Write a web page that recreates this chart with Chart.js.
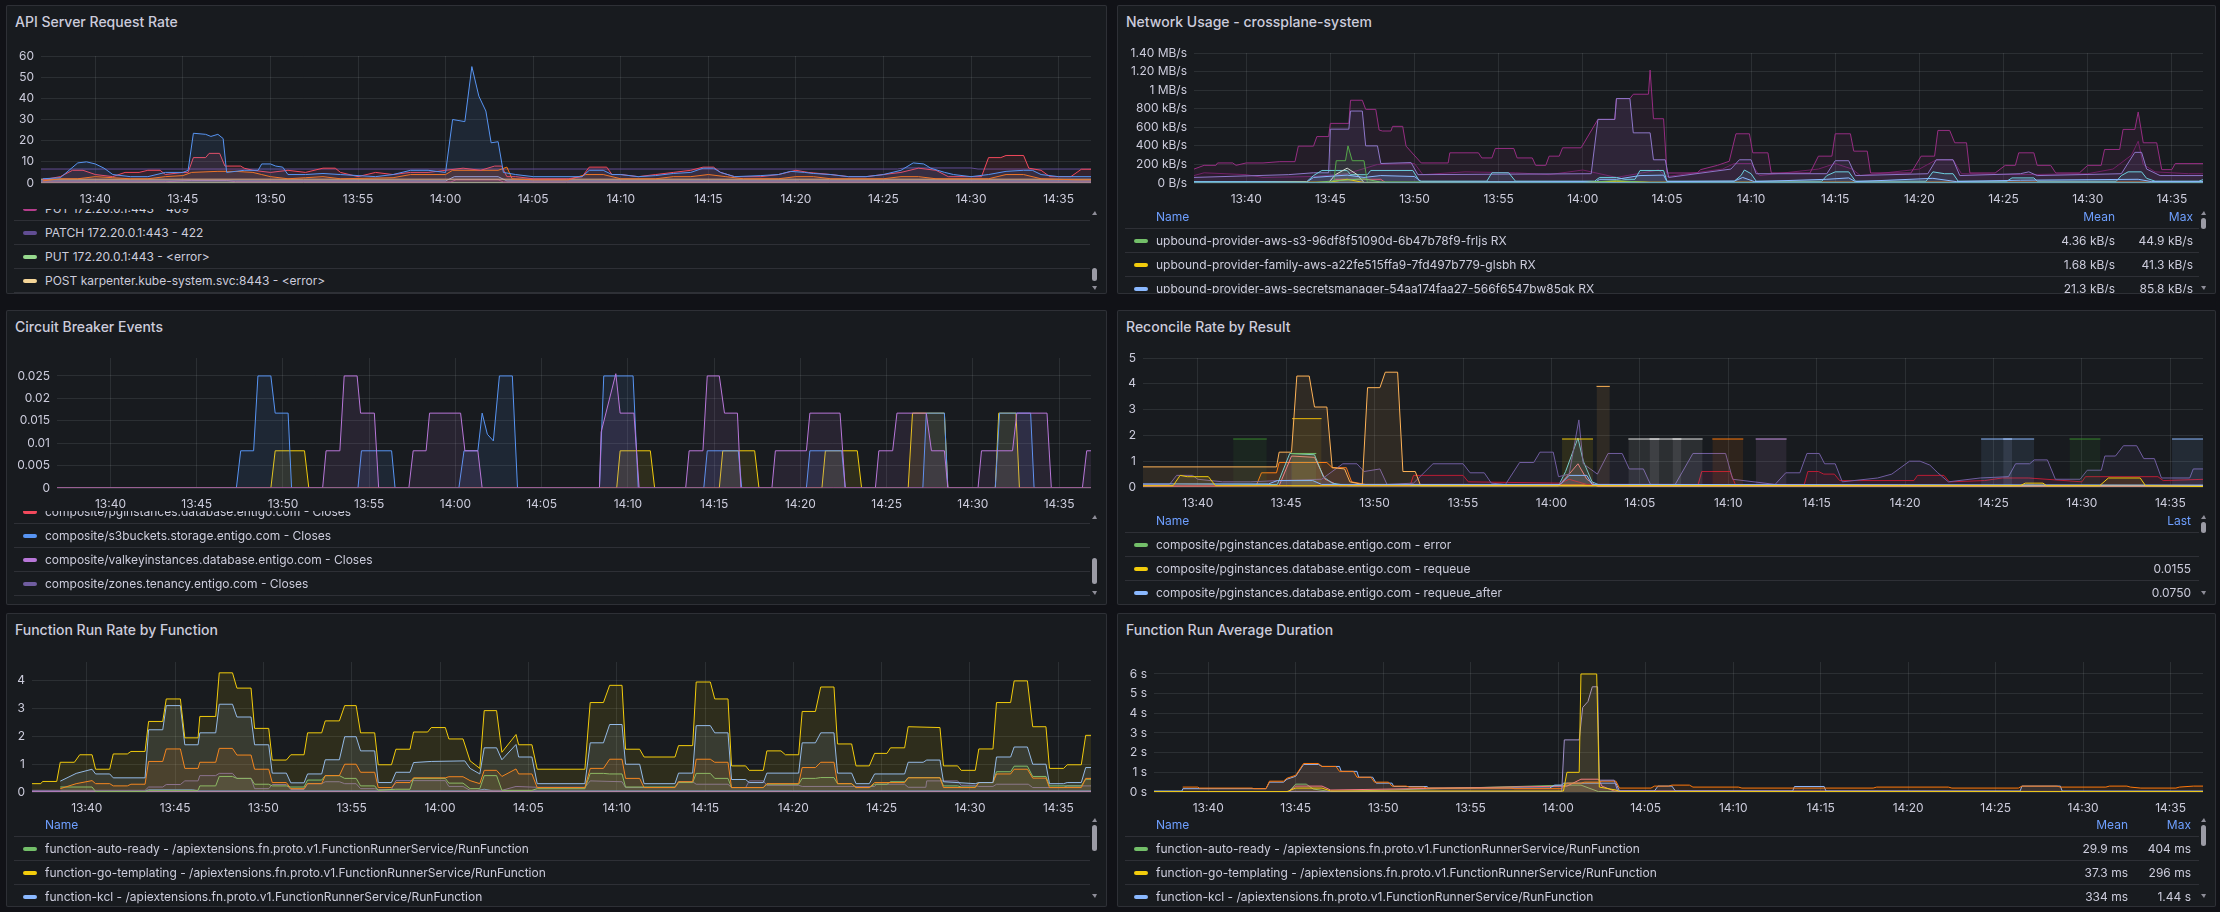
<!DOCTYPE html>
<html>
<head>
<meta charset="utf-8">
<script src="https://cdn.jsdelivr.net/npm/chart.js@4.4.1/dist/chart.umd.min.js"></script>
<style>
  body { margin: 0; background: #111217; width: 2220px; height: 912px; overflow: hidden; font-family: Inter, sans-serif; }
  .panel { position: absolute; background: #181b1f; border: 1px solid rgba(204, 204, 220, 0.12); border-radius: 2px; box-sizing: border-box; overflow: hidden; }
  .title { position: absolute; left: 8px; top: 0; line-height: 32px; font-size: 14px; font-weight: 500; color: #ccccdc; white-space: nowrap; }
  .plot { position: absolute; }
  .legend { position: absolute; left: 7px; right: 16px; bottom: 0; overflow: hidden; }
  .lrow { position: relative; height: 24px; box-sizing: border-box; border-bottom: 1px solid rgba(204, 204, 220, 0.12); font-size: 12px; line-height: 23px; color: #ccccdc; white-space: nowrap; }
  .sw { position: absolute; left: 9px; top: 10px; width: 14px; height: 4px; border-radius: 2px; }
  .lname { position: absolute; left: 31px; }
  .lstat { position: absolute; text-align: right; }
  .head { color: #6e9fff; }
  .sb-thumb { position: absolute; right: 9px; width: 5px; border-radius: 3px; background: #9b9ba5; }
  .sb-up, .sb-down { position: absolute; right: 9px; width: 0; height: 0; border-left: 3px solid transparent; border-right: 2px solid transparent; }
  .sb-up { border-bottom: 4px solid #8e8e99; }
  .sb-down { border-top: 4px solid #8e8e99; }
</style>
</head>
<body>

<div class="panel" id="p1" style="left:6px;top:5px;width:1101px;height:289px">
  <div class="title">API Server Request Rate</div>
  <div class="plot" style="left:7px;top:42px;width:1077px;height:159px"><canvas id="c1"></canvas></div>
  <div class="legend" id="l1" style="top:203px"></div>
</div>
<div class="panel" id="p2" style="left:1117px;top:5px;width:1099px;height:289px">
  <div class="title">Network Usage - crossplane-system</div>
  <div class="plot" style="left:7px;top:39px;width:1078px;height:162px"><canvas id="c2"></canvas></div>
  <div class="legend" id="l2" style="top:199px"></div>
</div>
<div class="panel" id="p3" style="left:6px;top:310px;width:1101px;height:295px">
  <div class="title">Circuit Breaker Events</div>
  <div class="plot" style="left:7px;top:39px;width:1077px;height:162px"><canvas id="c3"></canvas></div>
  <div class="legend" id="l3" style="top:200px"></div>
</div>
<div class="panel" id="p4" style="left:1117px;top:310px;width:1099px;height:295px">
  <div class="title">Reconcile Rate by Result</div>
  <div class="plot" style="left:7px;top:39px;width:1078px;height:161px"><canvas id="c4"></canvas></div>
  <div class="legend" id="l4" style="top:198px"></div>
</div>
<div class="panel" id="p5" style="left:6px;top:613px;width:1101px;height:294px">
  <div class="title">Function Run Rate by Function</div>
  <div class="plot" style="left:7px;top:40px;width:1077px;height:162px"><canvas id="c5"></canvas></div>
  <div class="legend" id="l5" style="top:199px"></div>
</div>
<div class="panel" id="p6" style="left:1117px;top:613px;width:1099px;height:294px">
  <div class="title">Function Run Average Duration</div>
  <div class="plot" style="left:7px;top:40px;width:1078px;height:162px"><canvas id="c6"></canvas></div>
  <div class="legend" id="l6" style="top:199px"></div>
</div>

<script>
// time is in minutes after 13:00, series are [minute, value] pairs
const X_MIN = 36.9;
const X_MAX = 96.85;
const TIME_TICK_VALUES = [40, 45, 50, 55, 60, 65, 70, 75, 80, 85, 90, 95];
const TIME_TICK_LABELS = ['13:40', '13:45', '13:50', '13:55', '14:00', '14:05', '14:10', '14:15', '14:20', '14:25', '14:30', '14:35'];

// ---- API Server Request Rate (req/s) ----
const API_Y_TICKS = [0, 10, 20, 30, 40, 50, 60];
const API_Y_LABELS = ['0', '10', '20', '30', '40', '50', '60'];
const API_GET = [[37,2],[38,2.5],[38.5,6],[39,9.5],[39.5,10],[40,9],[40.5,7],[41,4],[42,3],[43,3],[44,5],[45,5],[45.3,6],[45.6,23.5],[46.3,23],[46.6,22],[47,23],[47.3,21],[47.5,5],[48.5,6],[49.3,6],[49.5,9],[50,9],[50.3,8],[50.7,7.5],[51,4],[52,4],[53,4.5],[54,4],[55,3.5],[56,3],[57,4],[58,6],[59,6],[60,5],[60.4,30],[61.1,29],[61.5,55],[61.9,41],[62.3,34],[62.6,19],[63,19.5],[63.3,5],[64,4],[65,3],[67.8,3],[68.2,6],[69,6],[69.5,4],[70,4],[71,3],[72,3.5],[73,4.5],[74,5],[74.7,7],[75.3,7],[75.7,5],[76.5,3],[78,3.5],[79,4],[79.7,5.5],[80.5,5],[81,4.5],[82,4],[83,3],[84,3],[85,4],[86,6],[86.7,9.5],[87.3,9],[87.7,7],[88.5,5],[89,4],[90,3],[91,4],[92,5.5],[93,6],[93.5,6],[94,4],[95,3],[97,3]];
const API_PUT_200 = [[37,1.5],[38,3],[38.7,6],[39.3,6],[40,4],[41,3],[41.7,5],[42.5,5],[43,6],[43.7,6],[44,4],[45,5],[45.3,5],[45.6,12],[46.3,12],[46.5,14],[47.1,14],[47.4,8],[48.3,8],[48.5,7],[49,6],[50,5],[51,6],[52,5],[53,7],[53.7,7],[54,5],[55,3],[56,5],[57,4],[58,5],[59,5],[60,6],[61,7],[62,6],[62.8,8],[63.2,8],[63.5,3],[64,3],[65,2],[67,2],[67.8,3],[68.2,7.5],[69.2,7.5],[69.5,4],[70,4],[71,3],[72,4],[73,5],[74,6],[74.7,7.5],[75.3,7.5],[75.7,5],[76.5,3],[78,3],[79,4],[80,6],[80.7,5],[82,4],[83,3],[84,3],[85,4],[86,5],[87,7],[88,6],[88.7,3],[90.6,3],[91,12],[91.7,12],[92,13],[93,13],[93.3,7],[94,6],[94.5,3],[95.7,3],[96.3,6.5],[97,6.5]];
const API_POST = [[37,1],[38,2],[39,2],[40,3],[41,2.5],[42,2],[43,2],[44,3],[45,3.5],[45.5,5],[47,5.5],[48,5.5],[49,5],[49.5,4],[50,3],[51,2],[52,2.5],[53,3],[54,2],[57,2.5],[58,4],[60,4],[60.4,6],[63,6],[63.5,7.5],[63.8,2],[65,1.5],[67,1.5],[68,4],[69,4],[70,2],[72,2],[73,3],[74,3],[75,4],[76,3],[77,2],[79,2],[80,3],[81,3],[82,2],[85,2],[86,3],[87,3],[88,2],[91,2],[92,4],[93,4],[94,2],[96,1.5],[97,1.5]];
const API_PATCH_422 = [[36.9,6.6],[85.8,6.6],[86.2,7.1],[90,7.1],[90.4,6.6],[97,6.6]];
const API_POST_KARPENTER = [[36.9,1.8],[97,1.8]];
const API_PUT_409 = [[36.9,0.5],[44,0.6],[45.5,1.2],[47.5,1.2],[48,0.6],[60.3,0.5],[60.6,1.5],[63,1.5],[63.3,0.5],[97,0.5]];
const API_PUT_ERROR = [[36.9,0.2],[97,0.2]];
const API_DELETE = [[36.9,1],[60,1],[60.5,3],[63,3],[63.5,1],[97,1]];
const API_LEGEND = ['PUT 172.20.0.1:443 - 409', 'PATCH 172.20.0.1:443 - 422', 'PUT 172.20.0.1:443 - <error>', 'POST karpenter.kube-system.svc:8443 - <error>'];
const API_LEGEND_COLORS = ['#b53d8c', '#614d93', '#96d98d', '#f4d598'];

// ---- Network Usage (kB/s) ----
const NET_Y_TICKS = [0, 200, 400, 600, 800, 1000, 1200, 1400];
const NET_Y_LABELS = ['0 B/s', '200 kB/s', '400 kB/s', '600 kB/s', '800 kB/s', '1 MB/s', '1.20 MB/s', '1.40 MB/s'];
const NET_MAGENTA = [[36.9,150],[37.5,190],[38.2,190],[38.3,216],[39.2,216],[39.4,190],[40,216],[41,216],[42,230],[42.9,230],[43.1,397],[44,397],[44.2,500],[44.9,500],[45,642],[46.1,642],[46.2,891],[46.9,891],[47.1,793],[47.7,793],[47.9,570],[48.1,560],[48.6,560],[48.7,610],[49.3,610],[49.5,397],[50.4,216],[52,216],[52.1,325],[53.8,325],[54,270],[54.6,270],[54.8,372],[55.9,372],[56.1,270],[57,270],[57.2,190],[57.8,190],[58,289],[58.6,289],[58.8,379],[59.9,379],[60.9,685],[61.9,685],[62,909],[62.8,909],[63,956],[63.9,956],[64,1216],[64.2,692],[64.8,692],[65,108],[66.8,108],[67,144],[68,190],[68.7,234],[69.1,530],[69.9,530],[70.1,325],[71,325],[71.2,108],[73.5,108],[74,289],[74.8,289],[75,530],[75.9,530],[76.1,343],[76.9,343],[77.1,108],[79.5,108],[80.1,289],[80.9,289],[81.1,566],[81.8,566],[82.1,433],[82.8,433],[83,108],[84.5,108],[85.1,190],[85.7,190],[85.9,325],[86.8,325],[87,190],[87.8,190],[88.1,108],[89.5,108],[90,190],[90.8,190],[91,361],[91.9,361],[92.1,577],[92.8,577],[93,765],[93.3,433],[94.1,433],[94.4,144],[95,144],[95.2,209],[97,209]];
const NET_LAVENDER = [[36.9,60],[42.5,90],[44,110],[44.9,110],[45,580],[46.1,580],[46.2,775],[46.9,775],[47.1,400],[47.8,400],[48,210],[49.8,220],[50.2,90],[60.5,100],[60.9,685],[61.9,685],[62,909],[62.8,909],[63,540],[64,540],[64.2,250],[64.9,250],[65.1,60],[68.8,150],[69.3,250],[70,250],[70.3,100],[74.5,100],[75,240],[75.8,240],[76.2,80],[80.5,100],[81,250],[82,250],[82.4,80],[86,100],[86.5,120],[87,80],[92,100],[92.8,330],[93.2,330],[93.5,150],[94.3,80],[97,80]];
const NET_DARK_MAGENTA = [[36.9,80],[37.5,110],[40,90],[41,60],[44,70],[46,100],[47.8,200],[50,210],[50.5,90],[53,120],[56,110],[58,90],[60,140],[62,60],[64.5,140],[65,70],[68.3,150],[69,210],[70,210],[70.5,80],[74,150],[75,210],[76,150],[76.5,80],[80,150],[81,250],[82,250],[82.5,100],[86,90],[90,100],[91.5,150],[92.6,300],[93,450],[93.3,200],[94,120],[96,100],[97,100]];
const NET_CYAN = [[36.9,15],[43.6,15],[44,80],[44.5,135],[46,135],[46.2,90],[47.2,90],[47.4,135],[49.9,135],[50.3,20],[54.3,20],[54.6,110],[55.6,110],[56,20],[60.7,20],[61,60],[62,60],[62.5,40],[63.1,40],[63.4,135],[64.8,135],[65,20],[69,20],[69.4,80],[69.6,140],[70,100],[70.3,20],[74.2,20],[74.5,80],[75,120],[75.8,120],[76.2,20],[80.4,20],[80.8,120],[81.5,100],[82,100],[82.3,20],[85.2,20],[85.5,55],[86.8,55],[87,20],[91.7,20],[92,80],[92.4,120],[93.2,120],[93.5,50],[94,20],[96.6,20],[97,45]];
const NET_SECRETSMANAGER_RX = [[36.9,10],[43.6,10],[44,60],[46,85],[47,60],[48,80],[50,70],[50.4,15],[60.8,15],[61,40],[62,40],[63.4,80],[64.8,85],[65,15],[69,20],[69.5,60],[70.2,15],[74.5,40],[75.8,55],[76.2,15],[80.8,50],[82.2,15],[86,30],[93,40],[93.8,15],[97,15]];
const NET_GREEN_TX = [[36.9,5],[45.2,5],[45.35,240],[45.9,240],[46.05,400],[46.3,240],[47,240],[47.2,10],[97,5]];
const NET_S3_RX = [[36.9,3],[44,3],[45,20],[47,45],[48,10],[60,5],[62,25],[64,5],[97,3]];
const NET_FAMILY_RX = [[36.9,1],[45,10],[46,40],[47,5],[60,3],[62,20],[64,5],[97,1]];
const NET_WHITE = [[36.9,5],[44.9,5],[45.3,90],[46,160],[46.6,90],[47,5],[97,5]];
const NET_ORANGE = [[36.9,2],[60.8,2],[61,10],[97,10]];
const NET_RED = [[36.9,2],[45,2],[45.3,40],[48,40],[48.3,2],[97,2]];
const NET_BASELINE = [[36.9,1],[97,1]];
const NET_LEGEND = ['upbound-provider-aws-s3-96df8f51090d-6b47b78f9-frljs RX', 'upbound-provider-family-aws-a22fe515ffa9-7fd497b779-glsbh RX', 'upbound-provider-aws-secretsmanager-54aa174faa27-566f6547bw85gk RX'];
const NET_LEGEND_COLORS = ['#73bf69', '#f2cc0c', '#8ab8ff'];
const NET_MEAN = ['4.36 kB/s', '1.68 kB/s', '21.3 kB/s'];
const NET_MAX = ['44.9 kB/s', '41.3 kB/s', '85.8 kB/s'];

// ---- Circuit Breaker Events ----
const CB_Y_TICKS = [0, 0.005, 0.01, 0.015, 0.02, 0.025];
const CB_Y_LABELS = ['0', '0.005', '0.01', '0.015', '0.02', '0.025'];
const CB_S3BUCKETS = [[36.9,0],[47.3,0],[47.55,0.0083],[48.3,0.0083],[48.55,0.025],[49.3,0.025],[49.55,0.0167],[50.3,0.0167],[50.5,0],[54.35,0],[54.55,0.0083],[56.3,0.0083],[56.5,0],[60.2,0],[60.5,0.0083],[61.3,0.0083],[61.55,0.0167],[61.85,0.012],[62.2,0.0105],[62.55,0.025],[63.3,0.025],[63.6,0],[68.35,0],[68.6,0.025],[70.3,0.025],[70.6,0],[74.4,0],[74.6,0.0083],[76.4,0.0083],[76.6,0],[80.35,0],[80.55,0.0083],[82.4,0.0083],[82.6,0],[87.1,0],[87.3,0.0167],[88.35,0.0167],[88.55,0],[91.3,0],[91.55,0.0167],[93.35,0.0167],[93.55,0],[97,0]];
const CB_VALKEY = [[36.9,0],[52.3,0],[52.5,0.0083],[53.3,0.0083],[53.55,0.025],[54.3,0.025],[54.5,0.0167],[55.3,0.0167],[55.55,0],[57.3,0],[57.55,0.0083],[58.3,0.0083],[58.5,0.0167],[60.3,0.0167],[60.55,0.0083],[61.3,0.0083],[61.55,0],[68.35,0],[68.45,0.0125],[69.3,0.0255],[69.55,0.0167],[70.35,0.0167],[70.65,0],[73.35,0],[73.55,0.0083],[74.35,0.0083],[74.6,0.025],[75.3,0.025],[75.6,0.0167],[76.35,0.0167],[76.55,0],[78.35,0],[78.55,0.0083],[80.35,0.0083],[80.55,0.0167],[82.3,0.0167],[82.6,0],[84.35,0],[84.55,0.0083],[85.35,0.0083],[85.6,0.0167],[87.3,0.0167],[87.6,0.0083],[88.35,0.0083],[88.55,0],[90.3,0],[90.5,0.0083],[92.3,0.0083],[92.55,0.0167],[94.3,0.0167],[94.55,0],[96.35,0],[96.6,0.0083],[97,0.0083]];
const CB_OBJECTS = [[36.9,0],[49.3,0],[49.55,0.0083],[51.25,0.0083],[51.5,0],[69.35,0],[69.55,0.0083],[71.3,0.0083],[71.55,0],[75.3,0],[75.5,0.0083],[77.35,0.0083],[77.6,0],[81.25,0],[81.45,0.0083],[83.3,0.0083],[83.55,0],[86.25,0],[86.5,0.0167],[88.35,0.0167],[88.55,0],[91.3,0],[91.5,0.0167],[92.5,0.0167],[92.7,0],[97,0]];
const CB_PGINSTANCES = [[36.9,0],[97,0]];
const CB_ZONES = [[36.9,0],[97,0]];
const CB_LEGEND = ['composite/pginstances.database.entigo.com - Closes', 'composite/s3buckets.storage.entigo.com - Closes', 'composite/valkeyinstances.database.entigo.com - Closes', 'composite/zones.tenancy.entigo.com - Closes'];
const CB_LEGEND_COLORS = ['#f2495c', '#5794f2', '#b877d9', '#705da0'];

// ---- Reconcile Rate by Result ----
const REC_Y_TICKS = [0, 1, 2, 3, 4, 5];
const REC_Y_LABELS = ['0', '1', '2', '3', '4', '5'];
const REC_SUCCESS = [[36.9,0.78],[44.45,0.78],[44.6,1.35],[45.3,1.35],[45.6,4.3],[46.3,4.3],[46.6,3.1],[47.3,3.1],[47.6,0.75],[48.3,0.7],[48.6,0.2],[49.3,0.1],[49.6,3.85],[50.3,3.85],[50.6,4.45],[51.3,4.45],[51.6,0.6],[52.3,0.6],[52.6,0.05],[97,0.05]];
const REC_SUCCESS_BURST = [[62.55,3.9],[63.3,3.9]];
const REC_OLIVE = [[45.33,2.65],[47,2.65]];
const REC_GREEN_PULSES = [[42,1.86],[43.9,1.86],[44,null],[89.3,1.86],[91.05,1.86]];
const REC_YELLOW_PULSE = [[60.6,1.86],[62.35,1.86]];
const REC_WHITE_PULSE = [[64.35,1.86],[68.55,1.86]];
const REC_GREY_PULSES = [[65.55,1.86],[66.1,1.86],[66.2,null],[66.85,1.86],[67.35,1.86]];
const REC_ORANGE_PULSE = [[69.1,1.86],[70.85,1.86]];
const REC_LAVENDER_PULSE = [[71.55,1.86],[73.3,1.86]];
const REC_BLUE_PULSES = [[84.3,1.86],[87.3,1.86],[87.4,null],[95.1,1.86],[97,1.86]];
const REC_BLUE_STRIPE = [[85.55,1.86],[86.05,1.86]];
const REC_PURPLE = [[36.9,0.1],[38.4,0.1],[38.8,0.45],[39.7,0.45],[40,0.3],[41.4,0.2],[43,0.2],[44.6,0.25],[47,0.3],[48.2,0.9],[49,0.9],[49.4,0.6],[50.3,0.7],[50.7,0.1],[52.2,0.15],[53.3,0.9],[55,0.9],[55.4,0.55],[56.2,0.55],[56.6,0.15],[57.4,0.1],[58.2,0.95],[59,0.95],[59.35,1.35],[60.1,1.35],[60.4,0.4],[61,0.5],[61.55,2.6],[61.8,0.9],[62.6,0.5],[63.2,1.3],[64,1.3],[64.4,0.7],[65.2,0.7],[65.6,0.1],[67,0.1],[68,1.3],[69.85,1.3],[70.25,0.3],[72.65,0.1],[73.25,0.55],[74.05,0.55],[74.45,1.3],[75.15,1.3],[75.45,0.9],[76.05,0.9],[76.45,0.2],[78.45,0.35],[79.25,0.5],[80.25,1],[80.85,1],[81.4,0.85],[81.85,0.55],[82.45,0.2],[84.25,0.35],[85.85,0.4],[86.25,0.9],[87.05,0.9],[87.3,1.05],[88.05,1.05],[88.5,0.3],[89.9,0.3],[90.3,0.65],[91.1,0.65],[91.3,1.2],[91.9,1.2],[92.35,1.6],[93.1,1.6],[93.5,1.1],[94.1,1.1],[94.5,0.35],[96.1,0.35],[96.3,0.7],[97,0.7]];
const REC_DARK_RED = [[36.9,0.05],[52,0.05],[52.2,0.45],[55,0.45],[55.3,0.2],[60.5,0.15],[61,0.3],[62,0.1],[68.3,0.1],[68.5,0.6],[70.1,0.6],[70.4,0.1],[74.3,0.1],[74.5,0.6],[75.1,0.6],[75.4,0.5],[76,0.5],[76.3,0.25],[80.5,0.25],[80.7,0.45],[82.2,0.45],[82.5,0.2],[84.5,0.25],[85.5,0.35],[87,0.35],[90,0.2],[90.2,0.4],[94.3,0.4],[94.6,0.25],[97,0.3]];
const REC_TEAL = [[36.9,0.05],[44.5,0.1],[45.2,1.3],[46.6,1.25],[47.1,0.4],[47.6,0.15],[48.5,0.05],[60.4,0.05],[60.8,0.6],[61.5,1.9],[61.8,1],[62.3,0.2],[62.8,0.05],[97,0.05]];
const REC_PINK = [[36.9,0.02],[44.6,0.05],[45.3,1.2],[46.6,1.15],[47.2,0.3],[48,0.05],[60.4,0.05],[61,0.5],[61.5,0.9],[62,0.3],[62.6,0.02],[97,0.02]];
const REC_ORANGE = [[36.9,0.05],[43.3,0.05],[43.6,0.55],[44.45,0.55],[44.6,0.95],[47.3,0.95],[47.6,0.75],[48.4,0.75],[48.7,0.2],[49.5,0.1],[97,0.05]];
const REC_PG_ERROR = [[45.25,1.3],[46.7,1.3]];
const REC_PG_REQUEUE = [[36.9,0.05],[38.6,0.05],[39,0.45],[39.4,0.4],[40.6,0.4],[41,0.05],[86.5,0.05],[86.8,0.15],[87.8,0.15],[88,0.05],[91,0.05],[91.5,0.35],[93.3,0.35],[93.6,0.05],[97,0.0155]];
const REC_PG_REQUEUE_AFTER = [[36.9,0.12],[44,0.12],[44.5,0.25],[46.5,0.25],[47,0.1],[60.5,0.1],[61,0.45],[62,0.45],[62.3,0.1],[97,0.075]];
const REC_LEGEND = ['composite/pginstances.database.entigo.com - error', 'composite/pginstances.database.entigo.com - requeue', 'composite/pginstances.database.entigo.com - requeue_after'];
const REC_LEGEND_COLORS = ['#73bf69', '#f2cc0c', '#8ab8ff'];
const REC_LAST = ['', '0.0155', '0.0750'];

// ---- Function Run Rate by Function (runs/s) ----
const FN_Y_TICKS = [0, 1, 2, 3, 4];
const FN_Y_LABELS = ['0', '1', '2', '3', '4'];
const FN_GO_TEMPLATING = [[36.9,0.3],[37.4,0.3],[37.5,0.38],[38.3,0.38],[38.5,1.07],[39.3,1.07],[39.6,1.34],[40.3,1.34],[40.5,0.82],[41.3,0.82],[41.5,1.37],[42.3,1.37],[42.5,1.46],[43.3,1.46],[43.5,2.54],[44.3,2.54],[44.5,3.35],[45.3,3.35],[45.55,1.95],[46.3,1.95],[46.4,2.72],[47.3,2.72],[47.5,4.29],[48.25,4.29],[48.5,3.74],[49.3,3.74],[49.5,2.29],[50.3,2.29],[50.5,1.15],[51.3,1.15],[51.55,1.34],[52.3,1.34],[52.5,2.13],[53.3,2.13],[53.5,2.56],[54.3,2.56],[54.6,3.11],[55.25,3.11],[55.5,2.13],[56.3,2.13],[56.5,0.98],[57.25,0.98],[57.5,1.54],[58.3,1.54],[58.5,2.16],[59.3,2.16],[59.5,2.32],[60.3,2.32],[60.5,1.91],[61.3,1.91],[61.7,1.12],[62.25,0.85],[62.5,2.93],[63.2,2.93],[63.5,1.43],[64.3,2.07],[64.45,1.7],[65.2,1.7],[65.5,0.82],[68.2,0.82],[68.5,3.22],[69.25,3.22],[69.6,3.84],[70.3,3.84],[70.5,1.54],[71.3,1.54],[71.55,1.26],[73.3,1.26],[73.5,1.67],[74.3,1.67],[74.5,3.96],[75.3,3.96],[75.55,3.35],[76.3,3.35],[76.5,0.94],[77.3,0.94],[77.5,0.78],[78.3,0.78],[78.5,1.48],[79.3,1.48],[79.55,1.34],[80.3,1.34],[80.5,2.9],[81.25,2.9],[81.55,3.78],[82.3,3.78],[82.5,1.73],[83.3,1.73],[83.55,0.94],[84.3,0.94],[84.6,1.39],[85.3,1.39],[85.5,1.59],[86.3,1.59],[86.5,2.35],[88.3,2.32],[88.5,0.94],[89.3,0.94],[89.5,0.78],[90.3,0.78],[90.5,1.55],[91.3,1.55],[91.5,3.22],[92.3,3.22],[92.5,4],[93.25,4],[93.55,2.35],[94.3,2.35],[94.5,0.85],[95.3,0.85],[95.5,0.98],[96.3,0.98],[96.55,2.04],[97,2.04]];
const FN_KCL = [[38.5,0.39],[39.4,0.67],[40.3,0.82],[40.5,0.65],[41.3,0.65],[41.5,0.51],[43.3,0.51],[43.5,2.24],[44.3,2.24],[44.5,3.11],[45.3,3.11],[45.55,1.7],[46.3,1.7],[46.4,2.13],[47.3,2.13],[47.5,3.16],[48.25,3.16],[48.5,2.7],[49.3,2.7],[49.5,1.7],[50.3,1.7],[50.5,0.68],[51.3,0.68],[51.55,0.33],[52.3,0.33],[52.5,0.65],[53.3,0.65],[53.5,1.16],[54.3,1.16],[54.6,1.99],[55.25,1.99],[55.5,1.48],[56.3,1.48],[56.5,0.34],[57.25,0.34],[57.5,0.71],[58.3,0.71],[58.5,1.06],[59.5,1.1],[61.4,1.12],[61.7,0.85],[62.25,0.65],[62.5,1.59],[63.2,1.59],[63.5,1.16],[64.3,1.71],[64.45,1.26],[65.2,1.26],[65.5,0.3],[68.2,0.3],[68.5,1.77],[69.25,1.77],[69.6,2.43],[70.3,2.43],[70.5,1],[71.3,1],[71.55,0.3],[73.3,0.3],[73.5,0.68],[74.3,0.68],[74.5,2.39],[75.3,2.39],[75.55,2.13],[76.3,2.13],[76.5,0.45],[77.3,0.45],[77.5,0.34],[78.3,0.34],[78.5,0.68],[80.3,0.68],[80.5,1.77],[81.25,1.77],[81.55,2.13],[82.3,2.13],[82.5,0.68],[83.3,0.68],[83.55,0.3],[84.3,0.3],[84.6,0.65],[86.3,0.65],[86.5,1.07],[87.35,1.07],[87.55,1.15],[88.3,1.15],[88.5,0.37],[90.3,0.3],[90.5,0.34],[91.3,0.34],[91.5,1.26],[92.3,1.26],[92.5,1.62],[93.25,1.62],[93.55,1],[94.3,1],[94.5,0.3],[95.3,0.3],[95.5,0.34],[96.3,0.34],[96.55,0.88],[97,0.88]];
const FN_PATCH_TRANSFORM = [[38.5,0.12],[39.4,0.3],[40.3,0.41],[40.5,0.3],[41.3,0.3],[41.5,0.22],[42.3,0.22],[42.5,0.28],[43.3,0.28],[43.5,1.1],[44.3,1.1],[44.5,1.55],[45.3,1.55],[45.55,0.85],[46.3,0.85],[46.4,1.07],[47.3,1.07],[47.5,1.57],[48.25,1.57],[48.5,1.33],[49.3,1.33],[49.5,0.82],[50.3,0.82],[50.5,0.34],[51.3,0.34],[51.55,0.12],[52.3,0.12],[52.5,0.3],[53.3,0.3],[53.5,0.59],[54.3,0.59],[54.6,1],[55.25,1],[55.5,0.71],[56.3,0.71],[56.5,0.16],[57.25,0.16],[57.5,0.34],[58.3,0.34],[58.5,0.51],[60.3,0.51],[60.5,0.55],[61.3,0.55],[61.7,0.41],[62.25,0.3],[62.5,0.78],[63.2,0.78],[63.5,0.56],[64.3,0.83],[64.45,0.65],[65.2,0.65],[65.5,0.16],[68.2,0.16],[68.5,0.85],[69.25,0.85],[69.6,1.18],[70.3,1.18],[70.5,0.49],[71.3,0.49],[71.55,0.16],[73.3,0.16],[73.5,0.37],[74.3,0.37],[74.5,1.18],[75.3,1.18],[75.55,1.07],[76.3,1.07],[76.5,0.16],[78.3,0.16],[78.5,0.3],[80.3,0.3],[80.5,0.88],[81.25,0.88],[81.55,1.07],[82.3,1.07],[82.5,0.3],[83.3,0.3],[83.55,0.16],[84.3,0.16],[84.6,0.34],[86.3,0.34],[86.5,0.51],[88.3,0.51],[88.5,0.16],[90.3,0.16],[90.5,0.34],[91.3,0.34],[91.5,0.65],[92.3,0.65],[92.5,0.82],[93.25,0.82],[93.55,0.5],[94.3,0.5],[94.5,0.16],[96.3,0.16],[96.55,0.49],[97,0.49]];
const FN_AUTO_READY = [[38.5,0.18],[40.3,0.18],[40.5,0.02],[43.3,0.02],[43.5,0.06],[46.3,0.06],[46.4,0.22],[47.3,0.22],[47.5,0.56],[48.25,0.56],[48.5,0.49],[49.3,0.49],[49.5,0.28],[50.3,0.28],[50.5,0.22],[51.3,0.22],[51.55,0.18],[52.3,0.18],[52.5,0.43],[53.3,0.43],[53.5,0.59],[54.3,0.59],[54.6,0.49],[55.25,0.49],[55.5,0.22],[56.3,0.22],[56.5,0.06],[57.5,0.1],[58.3,0.1],[58.5,0.49],[60.3,0.49],[60.5,0.32],[61.3,0.32],[61.7,0.12],[62.25,0.12],[62.5,0.59],[63.2,0.59],[63.5,0.06],[65.2,0.06],[65.5,0.12],[68.2,0.12],[68.5,0.67],[69.25,0.67],[69.6,0.65],[70.3,0.65],[70.5,0.18],[73.3,0.18],[73.5,0.34],[74.3,0.34],[74.5,0.67],[75.3,0.67],[75.55,0.49],[76.3,0.49],[76.5,0.16],[78.3,0.16],[78.5,0.28],[80.3,0.28],[80.5,0.49],[81.25,0.49],[81.55,0.52],[82.3,0.52],[82.5,0.3],[83.3,0.3],[83.55,0.16],[84.3,0.16],[84.6,0.28],[85.3,0.28],[85.5,0.37],[86.3,0.37],[86.5,0.52],[88.3,0.52],[88.5,0.22],[89.3,0.22],[89.5,0.18],[90.3,0.18],[90.5,0.34],[91.3,0.34],[91.5,0.73],[92.3,0.73],[92.5,0.93],[93.25,0.93],[93.55,0.56],[94.3,0.56],[94.5,0.22],[96.3,0.22],[96.55,0.46],[97,0.46]];
const FN_EXTRA_RESOURCES = [[36.9,0.06],[43.3,0.06],[43.5,0.18],[44.3,0.18],[44.5,0.27],[45.3,0.27],[45.55,0.4],[46.3,0.4],[46.4,0.59],[47.3,0.59],[47.5,0.67],[48.25,0.67],[48.5,0.49],[49.3,0.49],[49.5,0.12],[50.3,0.12],[50.5,0.27],[51.3,0.27],[51.55,0.09],[52.3,0.09],[52.5,0.3],[53.3,0.3],[53.5,0.37],[54.3,0.37],[54.6,0.3],[55.25,0.3],[55.5,0.12],[56.3,0.12],[56.5,0.09],[57.25,0.09],[57.5,0.41],[60.3,0.41],[60.5,0.2],[61.3,0.2],[61.7,0.06],[63.5,0.06],[64.3,0.2],[65.5,0.17],[68.2,0.17],[68.5,0.4],[70.3,0.37],[70.5,0.16],[73.3,0.16],[73.5,0.37],[74.3,0.37],[74.5,0.28],[76.3,0.28],[76.5,0.16],[77.3,0.16],[77.5,0.4],[78.3,0.4],[78.5,0.24],[80.3,0.24],[80.5,0.2],[84.6,0.2],[84.7,0.28],[86.3,0.28],[86.5,0.17],[87.5,0.17],[87.55,0.4],[89.3,0.4],[89.5,0.24],[90.3,0.24],[90.5,0.2],[91.3,0.2],[91.5,0.28],[93.3,0.28],[93.55,0.16],[95.3,0.16],[95.5,0.22],[97,0.22]];
const FN_SEQUENCER = [[36.9,0.02],[97,0.02]];
const FN_ENVIRONMENT = [[36.9,0.04],[43.3,0.04],[43.5,0.08],[46,0.08],[46.3,0.04],[62,0.04],[62.5,0.1],[63,0.04],[97,0.04]];
const FN_LEGEND = ['function-auto-ready - /apiextensions.fn.proto.v1.FunctionRunnerService/RunFunction', 'function-go-templating - /apiextensions.fn.proto.v1.FunctionRunnerService/RunFunction', 'function-kcl - /apiextensions.fn.proto.v1.FunctionRunnerService/RunFunction'];
const FN_LEGEND_COLORS = ['#73bf69', '#f2cc0c', '#8ab8ff'];

// ---- Function Run Average Duration (seconds) ----
const DUR_Y_TICKS = [0, 1, 2, 3, 4, 5, 6];
const DUR_Y_LABELS = ['0 s', '1 s', '2 s', '3 s', '4 s', '5 s', '6 s'];
const DUR_PATCH_TRANSFORM = [[38.54,0.25],[39.4,0.25],[39.5,0.2],[42.5,0.2],[42.6,0.17],[43.3,0.17],[43.5,0.55],[44.3,0.55],[44.5,0.7],[45,0.85],[45.45,1.45],[46.3,1.45],[46.5,1.3],[47.3,1.3],[47.5,1.05],[48.3,1.05],[48.5,0.75],[49.3,0.75],[49.5,0.5],[50.3,0.5],[50.5,0.3],[51.3,0.3],[51.5,0.25],[52.3,0.25],[52.5,0.2],[57.3,0.2],[57.5,0.17],[60.2,0.17],[60.5,0.45],[61.3,0.45],[61.5,0.5],[62.3,0.5],[62.5,0.55],[63.3,0.55],[63.5,0.2],[65.3,0.2],[65.5,0.3],[66.3,0.3],[66.5,0.35],[67.5,0.35],[67.7,0.25],[70.3,0.25],[70.5,0.2],[78,0.2],[78.2,0.25],[82.3,0.25],[82.5,0.2],[86.3,0.2],[86.5,0.3],[88.5,0.3],[88.7,0.25],[91.3,0.25],[91.5,0.3],[92.5,0.3],[92.7,0.25],[93.3,0.2],[95.3,0.2],[95.5,0.25],[96.3,0.3],[97,0.3]];
const DUR_KCL = [[36.9,0.05],[38.5,0.05],[38.55,0.17],[43.3,0.17],[43.5,0.5],[44.3,0.5],[44.5,0.65],[45,0.8],[45.45,1.4],[46.3,1.4],[46.5,1.3],[47.5,1.3],[47.6,1.05],[48.5,1.05],[48.6,0.75],[49.4,0.75],[49.6,0.45],[50.5,0.45],[50.6,0.28],[52.5,0.28],[52.6,0.2],[59.5,0.2],[59.8,0.35],[60.2,0.35],[60.3,0.45],[63.3,0.45],[63.5,0.05],[65.5,0.05],[65.7,0.3],[66.5,0.3],[66.7,0.05],[73.4,0.05],[73.5,0.28],[75.2,0.28],[75.3,0.05],[86.4,0.05],[86.5,0.3],[88.7,0.3],[88.8,0.05],[97,0.05]];
const DUR_GO_TEMPLATING = [[36.9,0.02],[44.5,0.02],[45,0.2],[46.5,0.2],[47,0.05],[60.3,0.05],[60.5,1],[61.2,1],[61.3,6],[62.2,6],[62.35,0.25],[63.3,0.1],[63.5,0.02],[97,0.02]];
const DUR_SEQUENCER = [[36.9,0.02],[60.2,0.02],[60.35,2.65],[61.2,2.65],[61.4,4.3],[61.7,4.6],[61.95,5.35],[62.25,5.35],[62.35,0.6],[63.2,0.6],[63.4,0.05],[97,0.02]];
const DUR_ENVIRONMENT = [[36.9,0.02],[44.6,0.02],[45,0.3],[46.5,0.3],[47,0.1],[60.5,0.3],[61.3,0.65],[62.3,0.65],[62.5,0.3],[63.2,0.05],[97,0.02]];
const DUR_AUTO_READY = [[36.9,0.02],[44.6,0.02],[45,0.4],[45.6,0.4],[46,0.15],[47,0.02],[60.5,0.35],[61.3,0.35],[62.3,0.02],[97,0.02]];
const DUR_MEAN = ['29.9 ms', '37.3 ms', '334 ms'];
const DUR_MAX = ['404 ms', '296 ms', '1.44 s'];

// ---- shared chart helpers ----
const GRID = 'rgba(240, 250, 255, 0.09)';
Chart.defaults.font.family = 'Inter, sans-serif';
Chart.defaults.font.size = 12;
Chart.defaults.color = '#ccccdc';

function line(label, color, data) {
  return { label, data, borderColor: color, backgroundColor: color + '1a', borderWidth: 1, pointRadius: 0, fill: 'origin' };
}

function timeAxis() {
  return {
    type: 'linear',
    min: X_MIN,
    max: X_MAX,
    grid: { color: GRID, drawTicks: false },
    border: { display: false },
    ticks: { padding: 9, maxRotation: 0, autoSkip: false, callback: (v, i) => TIME_TICK_LABELS[i] },
    afterBuildTicks: (s) => { s.ticks = TIME_TICK_VALUES.map((v) => ({ value: v })); },
    afterFit: (s) => { s.height = 24; },
  };
}

// fixed width, and no label padding pushing the plot down (layout padding handles the top)
function valueAxis(max, ticks, labels, width) {
  return {
    min: 0,
    max,
    grid: { color: GRID, drawTicks: false },
    border: { display: false },
    ticks: { padding: 7, autoSkip: false, callback: (v, i) => labels[i] },
    afterBuildTicks: (s) => { s.ticks = ticks.map((v) => ({ value: v })); },
    afterFit: (s) => {
      s.width = width;
      s.paddingTop = 0;
      s.paddingBottom = 0;
    },
  };
}

function timeChart(id, datasets, yAxis) {
  return new Chart(document.getElementById(id), {
    type: 'line',
    data: { datasets },
    options: {
      responsive: true,
      maintainAspectRatio: false,
      animation: false,
      layout: { padding: { top: 8, right: 0, bottom: 0, left: 0 } },
      plugins: { legend: { display: false }, tooltip: { enabled: false } },
      scales: { x: timeAxis(), y: yAxis },
    },
  });
}

function addCell(row, text, cls, right) {
  const el = document.createElement('span');
  el.className = cls;
  el.textContent = text;
  if (right !== undefined) el.style.right = right + 'px';
  row.appendChild(el);
}

// table legend, drawn as Grafana shows it (scrolled lists start with a cut row)
function legend(id, opts) {
  const box = document.getElementById(id);
  const list = document.createElement('div');
  list.style.marginTop = (opts.offset || 0) + 'px';
  box.appendChild(list);
  const stats = opts.stats || [];
  const newRow = () => {
    const r = document.createElement('div');
    r.className = 'lrow';
    list.appendChild(r);
    return r;
  };
  if (opts.header) {
    const head = newRow();
    addCell(head, 'Name', 'lname head');
    stats.forEach((s) => addCell(head, s.title, 'lstat head', s.right));
  }
  opts.names.forEach((name, i) => {
    const r = newRow();
    const sw = document.createElement('span');
    sw.className = 'sw';
    sw.style.background = opts.colors[i];
    r.appendChild(sw);
    addCell(r, name, 'lname');
    stats.forEach((s) => addCell(r, s.values[i], 'lstat', s.right));
  });
}

function scrollbar(panelId, top, bottom, thumbTop, thumbHeight) {
  const p = document.getElementById(panelId);
  const up = document.createElement('div');
  up.className = 'sb-up';
  up.style.top = top + 'px';
  const down = document.createElement('div');
  down.className = 'sb-down';
  down.style.top = bottom + 'px';
  const thumb = document.createElement('div');
  thumb.className = 'sb-thumb';
  thumb.style.top = thumbTop + 'px';
  thumb.style.height = thumbHeight + 'px';
  p.append(up, down, thumb);
}

// ---- charts ----
timeChart('c1', [
  line('GET 172.20.0.1:443 - 200', '#5794f2', API_GET),
  line('PUT 172.20.0.1:443 - 200', '#f2495c', API_PUT_200),
  line('POST 172.20.0.1:443 - 201', '#ff780a', API_POST),
  line(API_LEGEND[1], API_LEGEND_COLORS[1], API_PATCH_422),
  line(API_LEGEND[3], API_LEGEND_COLORS[3], API_POST_KARPENTER),
  line('DELETE 172.20.0.1:443 - 200', '#8ab8ff', API_DELETE),
  line(API_LEGEND[0], API_LEGEND_COLORS[0], API_PUT_409),
  line(API_LEGEND[2], API_LEGEND_COLORS[2], API_PUT_ERROR),
], valueAxis(60, API_Y_TICKS, API_Y_LABELS, 27));

timeChart('c2', [
  line('upbound-provider-aws-iam RX', '#5794f2', NET_BASELINE),
  line(NET_LEGEND[0], NET_LEGEND_COLORS[0], NET_S3_RX),
  line(NET_LEGEND[1], NET_LEGEND_COLORS[1], NET_FAMILY_RX),
  line(NET_LEGEND[2], NET_LEGEND_COLORS[2], NET_SECRETSMANAGER_RX),
  line('upbound-provider-aws-s3 TX', '#56a64b', NET_GREEN_TX),
  line('crossplane RX', '#e0e0e0', NET_WHITE),
  line('crossplane-rbac-manager RX', '#6ed0e0', NET_CYAN),
  line('upbound-provider-aws-rds TX', '#ff780a', NET_ORANGE),
  line('upbound-provider-aws-ec2 TX', '#f2495c', NET_RED),
  line('crossplane TX', '#8e77c9', NET_LAVENDER),
  line('function-kcl RX', '#962d82', NET_MAGENTA),
  line('function-go-templating RX', '#6d1f62', NET_DARK_MAGENTA),
], valueAxis(1400, NET_Y_TICKS, NET_Y_LABELS, 69));

timeChart('c3', [
  line(CB_LEGEND[3], CB_LEGEND_COLORS[3], CB_ZONES),
  line(CB_LEGEND[0], CB_LEGEND_COLORS[0], CB_PGINSTANCES),
  line(CB_LEGEND[2], CB_LEGEND_COLORS[2], CB_VALKEY),
  line(CB_LEGEND[1], CB_LEGEND_COLORS[1], CB_S3BUCKETS),
  line('composite/objectstores.storage.entigo.com - Closes', '#f2cc0c', CB_OBJECTS),
], valueAxis(0.029, CB_Y_TICKS, CB_Y_LABELS, 43));

timeChart('c4', [
  line(REC_LEGEND[0], REC_LEGEND_COLORS[0], REC_PG_ERROR),
  line(REC_LEGEND[1], REC_LEGEND_COLORS[1], REC_PG_REQUEUE),
  line(REC_LEGEND[2], REC_LEGEND_COLORS[2], REC_PG_REQUEUE_AFTER),
  line('composite/pginstances.database.entigo.com - success', '#ffb357', REC_SUCCESS),
  line('composite/s3buckets.storage.entigo.com - success', '#ffb357', REC_SUCCESS_BURST),
  line('composite/s3buckets.storage.entigo.com - requeue', '#e0b400', REC_OLIVE),
  line('composite/zones.tenancy.entigo.com - requeue_after', '#37872d', REC_GREEN_PULSES),
  line('composite/valkeyinstances.database.entigo.com - requeue_after', '#f2cc0c', REC_YELLOW_PULSE),
  line('composite/s3buckets.storage.entigo.com - requeue_after', '#e6e6e6', REC_WHITE_PULSE),
  line('composite/iamroles.aws.entigo.com - requeue_after', '#e6e6e6', REC_GREY_PULSES),
  line('composite/queues.aws.entigo.com - requeue_after', '#ff780a', REC_ORANGE_PULSE),
  line('composite/topics.aws.entigo.com - requeue_after', '#ca95e5', REC_LAVENDER_PULSE),
  line('composite/buckets.aws.entigo.com - requeue_after', '#8ab8ff', REC_BLUE_PULSES),
  line('composite/repositories.aws.entigo.com - requeue_after', '#c0d8ff', REC_BLUE_STRIPE),
  line('composite/valkeyinstances.database.entigo.com - success', '#705da0', REC_PURPLE),
  line('composite/zones.tenancy.entigo.com - success', '#c4162a', REC_DARK_RED),
  line('composite/s3buckets.storage.entigo.com - error', '#6ed0e0', REC_TEAL),
  line('composite/valkeyinstances.database.entigo.com - error', '#ff7383', REC_PINK),
  line('composite/zones.tenancy.entigo.com - requeue', '#ff780a', REC_ORANGE),
], valueAxis(5, REC_Y_TICKS, REC_Y_LABELS, 18));

timeChart('c5', [
  line(FN_LEGEND[1], FN_LEGEND_COLORS[1], FN_GO_TEMPLATING),
  line(FN_LEGEND[2], FN_LEGEND_COLORS[2], FN_KCL),
  line('function-patch-and-transform - /apiextensions.fn.proto.v1.FunctionRunnerService/RunFunction', '#ff780a', FN_PATCH_TRANSFORM),
  line(FN_LEGEND[0], FN_LEGEND_COLORS[0], FN_AUTO_READY),
  line('function-extra-resources - /apiextensions.fn.proto.v1.FunctionRunnerService/RunFunction', '#705da0', FN_EXTRA_RESOURCES),
  line('function-sequencer - /apiextensions.fn.proto.v1.FunctionRunnerService/RunFunction', '#b877d9', FN_SEQUENCER),
  line('function-environment-configs - /apiextensions.fn.proto.v1.FunctionRunnerService/RunFunction', '#5794f2', FN_ENVIRONMENT),
], valueAxis(4.68, FN_Y_TICKS, FN_Y_LABELS, 18));

timeChart('c6', [
  line(FN_LEGEND[1], FN_LEGEND_COLORS[1], DUR_GO_TEMPLATING),
  line('function-sequencer - /apiextensions.fn.proto.v1.FunctionRunnerService/RunFunction', '#9f8fc8', DUR_SEQUENCER),
  line('function-patch-and-transform - /apiextensions.fn.proto.v1.FunctionRunnerService/RunFunction', '#ff780a', DUR_PATCH_TRANSFORM),
  line(FN_LEGEND[2], FN_LEGEND_COLORS[2], DUR_KCL),
  line('function-environment-configs - /apiextensions.fn.proto.v1.FunctionRunnerService/RunFunction', '#ff7383', DUR_ENVIRONMENT),
  line(FN_LEGEND[0], FN_LEGEND_COLORS[0], DUR_AUTO_READY),
], valueAxis(6.61, DUR_Y_TICKS, DUR_Y_LABELS, 29));

// ---- legends ----
legend('l1', { names: API_LEGEND, colors: API_LEGEND_COLORS, offset: -12 });
legend('l2', { names: NET_LEGEND, colors: NET_LEGEND_COLORS, header: true, stats: [{ title: 'Mean', values: NET_MEAN, right: 84 }, { title: 'Max', values: NET_MAX, right: 6 }] });
legend('l3', { names: CB_LEGEND, colors: CB_LEGEND_COLORS, offset: -11 });
legend('l4', { names: REC_LEGEND, colors: REC_LEGEND_COLORS, header: true, stats: [{ title: 'Last', values: REC_LAST, right: 8 }] });
legend('l5', { names: FN_LEGEND, colors: FN_LEGEND_COLORS, header: true });
legend('l6', { names: FN_LEGEND, colors: FN_LEGEND_COLORS, header: true, stats: [{ title: 'Mean', values: DUR_MEAN, right: 71 }, { title: 'Max', values: DUR_MAX, right: 8 }] });

scrollbar('p1', 205, 280, 262, 13);
scrollbar('p2', 205, 280, 212, 11);
scrollbar('p3', 204, 280, 247, 26);
scrollbar('p4', 204, 280, 211, 11);
scrollbar('p5', 204, 280, 211, 26);
scrollbar('p6', 204, 280, 211, 21);
</script>
</body>
</html>
